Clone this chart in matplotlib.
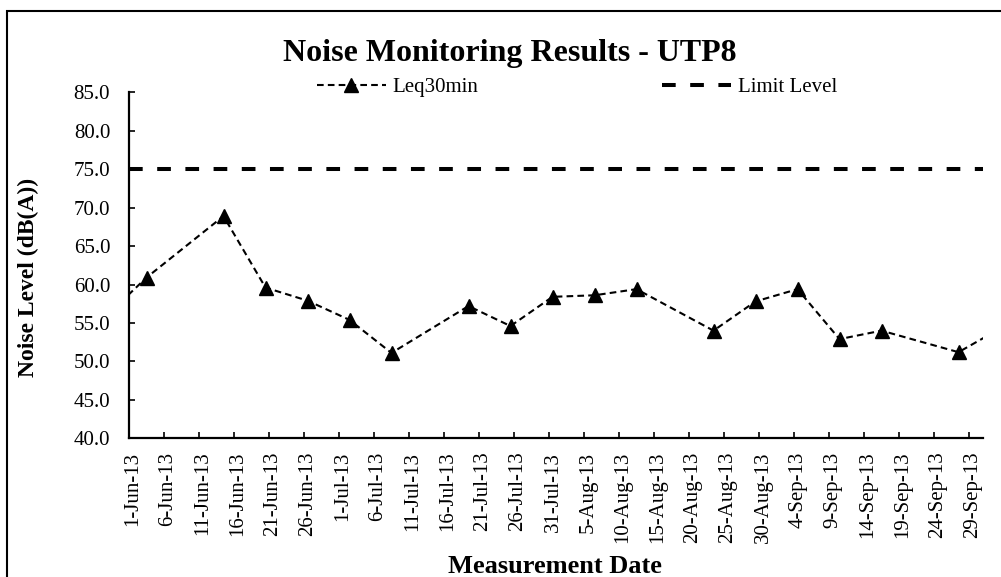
import matplotlib
matplotlib.use('Agg')
import matplotlib.pyplot as plt
from matplotlib.patches import Rectangle
from matplotlib.transforms import ScaledTranslation
import pandas as pd

plt.rcParams['font.family'] = ['Liberation Serif', 'DejaVu Serif']

# ---- data ----
measure_dates = ['2013-05-28', '2013-06-03', '2013-06-14', '2013-06-20', '2013-06-26',
                 '2013-07-02', '2013-07-08', '2013-07-19', '2013-07-25', '2013-07-31',
                 '2013-08-06', '2013-08-12', '2013-08-23', '2013-08-29', '2013-09-04',
                 '2013-09-10', '2013-09-16', '2013-09-27', '2013-10-03']
leq30min = [55.7, 60.9, 68.9, 59.6, 57.9, 55.4, 51.1, 57.2, 54.6, 58.4,
            58.6, 59.4, 54.0, 57.8, 59.4, 52.9, 54.0, 51.2, 54.3]
limit_level = 75.0
x_tick_dates = pd.date_range('2013-06-01', '2013-09-29', freq='5D')
x_tick_labels = [f"{d.day}-{d.strftime('%b-%y')}" for d in x_tick_dates]
y_ticks = [40, 45, 50, 55, 60, 65, 70, 75, 80, 85]
y_tick_labels = [f"{v:.1f}" for v in y_ticks]

W, H = 1001, 577
fig = plt.figure(figsize=(W / 100, H / 100), dpi=100)
ax = fig.add_axes([129 / W, 1 - 438.3 / H, (983 - 129) / W, (438.3 - 92.3) / H])

# points sit in the middle of their day (Excel "between tick marks")
x = pd.to_datetime(measure_dates) + pd.Timedelta(hours=12)
ax.plot(x, leq30min, color='black', lw=1.5, linestyle=(0, (3.2, 2.0)),
        marker='^', ms=10.5, mfc='black', mec='black', label='Leq30min')
ax.axhline(limit_level, color='black', lw=2.9, linestyle=(0, (3.4, 3.6)),
           label='Limit Level')

ax.set_xlim(pd.Timestamp('2013-06-01'), pd.Timestamp('2013-10-01'))
ax.set_ylim(40, 85)
ax.set_xticks(x_tick_dates, labels=x_tick_labels)
ax.set_yticks(y_ticks, labels=y_tick_labels)

for s in ['top', 'right']:
    ax.spines[s].set_visible(False)
for s in ['left', 'bottom']:
    ax.spines[s].set_linewidth(1.6)

ax.tick_params(axis='x', direction='in', length=4, width=1.2, labelsize=15,
               labelrotation=90, pad=9.6)
ax.tick_params(axis='y', direction='in', length=4, width=1.2, labelsize=15,
               pad=13.5)
off = ScaledTranslation(4 / 100, 0, fig.dpi_scale_trans)
for lab in ax.get_xticklabels():
    lab.set_transform(lab.get_transform() + off)

leg = ax.legend(loc='center left', bbox_to_anchor=(317 / W, 1 - 87 / H),
                bbox_transform=fig.transFigure, ncol=2, frameon=False, fontsize=15,
                handlelength=3.3, handletextpad=0.34, columnspacing=8.8,
                borderpad=0, borderaxespad=0, numpoints=1)

fig.text(510 / W, 1 - 61 / H, 'Noise Monitoring Results - UTP8', ha='center',
         va='baseline', fontsize=23, fontweight='bold')
fig.text(555 / W, 1 - 573 / H, 'Measurement Date', ha='center', va='baseline',
         fontsize=19, fontweight='bold')
fig.text(28 / W, 1 - 277 / H, 'Noise Level (dB(A))', ha='center', va='center',
         rotation=90, fontsize=17, fontweight='bold')

fig.add_artist(Rectangle((7 / W, -0.05), 1.1, 1 - 10.5 / H + 0.05,
                         transform=fig.transFigure, fill=False, lw=1.5, ec='black'))

fig.savefig('out.png', dpi=100)
